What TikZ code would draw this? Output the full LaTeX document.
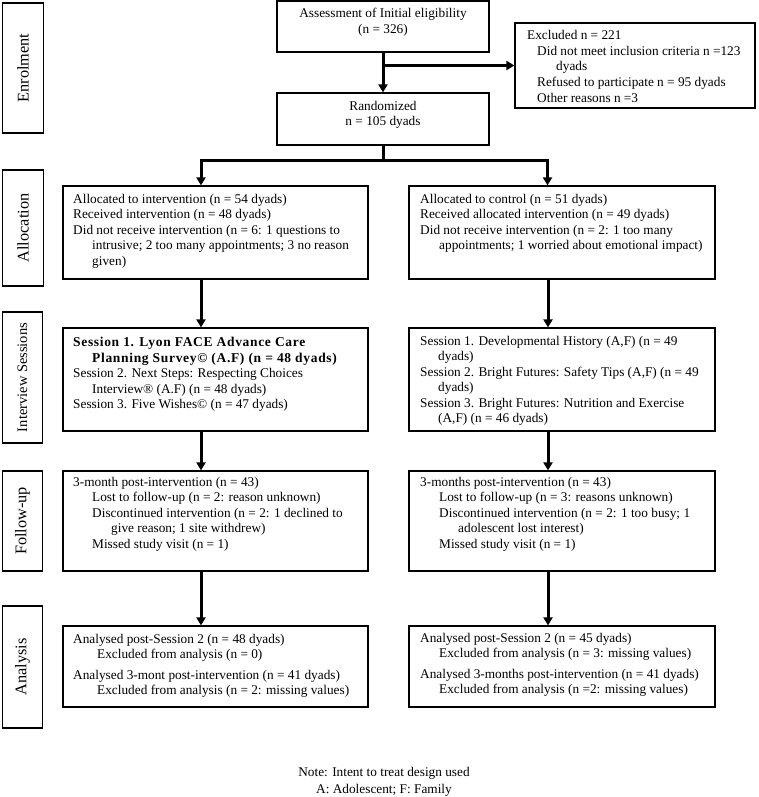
\documentclass[tikz,border=0pt]{standalone}
\usepackage{fontspec}
\setmainfont{Liberation Serif}
\usetikzlibrary{arrows.meta}
\tikzset{
  box/.style={draw, line width=1.2pt, inner sep=0pt, rectangle},
  txt/.style={anchor=north west, inner sep=0pt, align=left, font=\fontsize{13.3}{15.5}\selectfont},
  ctxt/.style={inner sep=0pt, align=center, font=\fontsize{13.3}{15.5}\selectfont},
  side/.style={rotate=90, inner sep=0pt, font=\fontsize{16.3}{18}\selectfont},
  arr/.style={line width=3pt, -{Triangle[width=9pt,length=8pt]}},
  thickline/.style={line width=3pt}
}
\newcommand{\boldsp}{\fontsize{13.5}{17}\selectfont\bfseries\addfontfeature{LetterSpace=5}}
\begin{document}
\begin{tikzpicture}[x=1pt,y=-1pt]
\useasboundingbox (0,0) rectangle (758,797);

% side labels
\node[box, minimum width=41pt, minimum height=130pt] (sEn) at (23,68) {};
\node[side] (tEn) at (sEn.center) {Enrolment};
\node[box, minimum width=41pt, minimum height=116pt] (sAl) at (23,228) {};
\node[side] (tAl) at (sAl.center) {Allocation};
\node[box, minimum width=40pt, minimum height=131pt] (sIn) at (22.5,377.5) {};
\node[side, font=\fontsize{14.5}{17}\selectfont] (tIn) at (sIn.center) {Interview Sessions};
\node[box, minimum width=40pt, minimum height=100pt] (sFo) at (22.5,521) {};
\node[side] (tFo) at (sFo.center) {Follow-up};
\node[box, minimum width=40pt, minimum height=122pt] (sAn) at (22.5,667) {};
\node[side] (tAn) at (sAn.center) {Analysis};

% enrolment
\node[box, minimum width=212pt, minimum height=51pt] (assess) at (383,26.5) {};
\node[ctxt] (tassess) at (383,22) {Assessment of Initial eligibility\\(n = 326)};
\node[box, minimum width=212pt, minimum height=52pt] (rand) at (383,119) {};
\node[ctxt] (trand) at (383,115) {Randomized\\n = 105 dyads};
\node[box, minimum width=240pt, minimum height=85pt] (excl) at (635,65.5) {};
\node[txt, font=\fontsize{13.3}{15.75}\selectfont] (texcl) at (527,28.1) {\strut Excluded n = 221\\
\hspace*{10pt}Did not meet inclusion criteria n =123\\
\hspace*{29pt}dyads\\
\hspace*{10pt}Refused to participate n = 95 dyads\\
\hspace*{10pt}Other reasons n =3};

% allocation
\node[box, minimum width=305pt, minimum height=93pt] (allocL) at (215.5,232.5) {};
\node[txt] (tallocL) at (73,192.1) {\strut Allocated to intervention (n = 54 dyads)\\
Received intervention (n = 48 dyads)\\
Did not receive intervention (n = 6: 1 questions to\\
\hspace*{19pt}intrusive; 2 too many appointments; 3 no reason\\
\hspace*{19pt}given)};
\node[box, minimum width=306pt, minimum height=93pt] (allocR) at (562,232.5) {};
\node[txt] (tallocR) at (420,192.1) {\strut Allocated to control (n = 51 dyads)\\
Received allocated intervention (n = 49 dyads)\\
Did not receive intervention (n = 2: 1 too many\\
\hspace*{19pt}appointments; 1 worried about emotional impact)};

% sessions
\node[box, minimum width=305pt, minimum height=103pt] (sessL) at (215.5,379.5) {};
\node[txt] (tsessL) at (73,334.6) {{\boldsp\strut Session 1. Lyon FACE Advance Care}\\
\hspace*{19pt}{\boldsp Planning Survey© (A.F) (n = 48 dyads)}\\
Session 2. Next Steps: Respecting Choices\\
\hspace*{19pt}Interview® (A.F) (n = 48 dyads)\\
Session 3. Five Wishes© (n = 47 dyads)};
\node[box, minimum width=306pt, minimum height=103pt] (sessR) at (562,379.5) {};
\node[txt] (tsessR) at (420,334.1) {\strut Session 1. Developmental History (A,F) (n = 49\\
\hspace*{18pt}dyads)\\
Session 2. Bright Futures: Safety Tips (A,F) (n = 49\\
\hspace*{18pt}dyads)\\
Session 3. Bright Futures: Nutrition and Exercise\\
\hspace*{18pt}(A,F) (n = 46 dyads)};

% follow-up
\node[box, minimum width=305pt, minimum height=100pt] (fuL) at (215.5,521) {};
\node[txt] (tfuL) at (73,475.1) {\strut 3-month post-intervention (n = 43)\\
\hspace*{19pt}Lost to follow-up (n = 2: reason unknown)\\
\hspace*{19pt}Discontinued intervention (n = 2: 1 declined to\\
\hspace*{38pt}give reason; 1 site withdrew)\\
\hspace*{19pt}Missed study visit (n = 1)};
\node[box, minimum width=306pt, minimum height=100pt] (fuR) at (562,521) {};
\node[txt] (tfuR) at (420,475.1) {\strut 3-months post-intervention (n = 43)\\
\hspace*{19pt}Lost to follow-up (n = 3: reasons unknown)\\
\hspace*{19pt}Discontinued intervention (n = 2: 1 too busy; 1\\
\hspace*{38pt}adolescent lost interest)\\
\hspace*{19pt}Missed study visit (n = 1)};

% analysis
\node[box, minimum width=305pt, minimum height=81pt] (anL) at (215.5,666.5) {};
\node[txt] (tanL) at (73,632.1) {\strut Analysed post-Session 2 (n = 48 dyads)\\
\hspace*{24pt}Excluded from analysis (n = 0)\\[5pt]
Analysed 3-mont post-intervention (n = 41 dyads)\\
\hspace*{24pt}Excluded from analysis (n = 2: missing values)};
\node[box, minimum width=306pt, minimum height=81pt] (anR) at (562,666.5) {};
\node[txt] (tanR) at (420,631.1) {\strut Analysed post-Session 2 (n = 45 dyads)\\
\hspace*{19pt}Excluded from analysis (n = 3: missing values)\\[5pt]
Analysed 3-months post-intervention (n = 41 dyads)\\
\hspace*{19pt}Excluded from analysis (n =2: missing values)};

% note
\node[ctxt] (note) at (384,782) {Note: Intent to treat design used\\[2pt]A: Adolescent; F: Family};

% connectors
\draw[arr] (assess.south) -- (rand.north);
\coordinate (br) at (assess.south |- excl.west);
\draw[arr] (br) -- (excl.west);
\path (rand.south) ++(0,15) coordinate (split);
\draw[arr] (rand.south) -- (split) -| ([xshift=-14.5pt]allocL.north);
\draw[arr] (split) -| ([xshift=-14.5pt]allocR.north);
\draw[arr] ([xshift=-14.5pt]allocL.south) -- ([xshift=-14.5pt]sessL.north);
\draw[arr] ([xshift=-14pt]allocR.south) -- ([xshift=-14pt]sessR.north);
\draw[arr] ([xshift=-14.5pt]sessL.south) -- ([xshift=-14.5pt]fuL.north);
\draw[arr] ([xshift=-14pt]sessR.south) -- ([xshift=-14pt]fuR.north);
\draw[arr] ([xshift=-14.5pt]fuL.south) -- ([xshift=-14.5pt]anL.north);
\draw[arr] ([xshift=-14pt]fuR.south) -- ([xshift=-14pt]anR.north);
\end{tikzpicture}
\end{document}
